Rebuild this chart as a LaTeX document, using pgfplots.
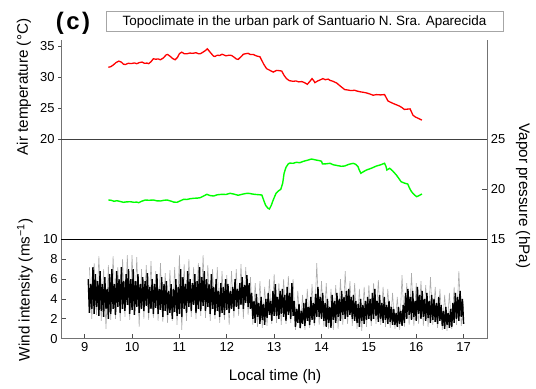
\documentclass[border=0pt]{standalone}
\usepackage{fontspec}
\setmainfont{Liberation Sans}
\usepackage{pgfplots}
\pgfplotsset{compat=1.18}
\pgfplotsset{
  panel/.style={
    scale only axis, width=426.3bp,
    xmin=8.5, xmax=17.5,
    axis line style={draw=none},
    /pgf/number format/assume math mode=true,
    tick label style={font=\fontsize{13}{13}\selectfont, text=black},
    tick style={black!70, line width=0.7bp},
  }
}
\begin{document}
\begin{tikzpicture}
\path[use as bounding box] (-61bp,-50.3bp) rectangle (475bp,338.7bp);
% bottom panel: wind
\begin{axis}[panel, at={(0bp,0bp)}, anchor=south west, height=99.4bp,
  ymin=0, ymax=10, xtick={9,10,11,12,13,14,15,16,17}, ytick={0,2,4,6,8,10},
  xtick pos=bottom, ytick pos=left, tick align=inside, major tick length=5bp]
\addplot[gray!65, line width=0.6bp] coordinates {
(9.10,7.2)(9.15,2.0)(9.20,7.6)(9.25,2.4)(9.30,8.3)(9.35,1.8)(9.40,7.0)(9.45,1.0)(9.50,7.4)(9.55,1.9)
(9.60,8.3)(9.65,2.0)(9.70,7.2)(9.75,1.8)(9.80,8.0)(9.85,2.2)(9.90,8.4)(9.95,1.9)(10.00,8.4)(10.05,2.4)
(10.10,8.2)(10.15,1.2)(10.20,7.0)(10.25,2.0)(10.30,7.4)(10.35,1.9)(10.40,7.8)(10.45,2.1)(10.50,6.8)(10.55,1.8)
(10.60,7.6)(10.65,1.7)(10.70,6.6)(10.75,1.6)(10.80,6.9)(10.85,1.8)(10.90,7.2)(10.95,1.4)(11.00,8.4)(11.05,0.9)
(11.10,7.5)(11.15,1.8)(11.20,8.0)(11.25,2.2)(11.30,7.2)(11.35,2.0)(11.40,7.6)(11.45,2.3)(11.50,8.4)(11.55,2.1)
(11.60,7.4)(11.65,1.8)(11.70,7.0)(11.75,2.0)(11.80,7.2)(11.85,1.6)(11.90,6.8)(11.95,1.9)(12.00,6.4)(12.05,1.4)
(12.10,6.8)(12.15,2.1)(12.20,7.0)(12.25,2.3)(12.30,7.5)(12.35,2.0)(12.40,7.2)(12.45,2.4)(12.50,6.2)(12.55,1.4)
(12.60,5.6)(12.65,1.2)(12.70,5.8)(12.75,1.1)(12.80,5.2)(12.85,1.3)(12.90,6.0)(12.95,1.5)(13.00,6.5)(13.05,1.6)
(13.10,5.6)(13.15,1.4)(13.20,6.0)(13.25,1.5)(13.30,6.3)(13.35,1.6)(13.40,6.0)(13.45,0.9)(13.50,4.8)(13.55,1.0)
(13.60,4.4)(13.65,0.9)(13.70,5.0)(13.75,1.1)(13.80,5.5)(13.85,1.3)(13.90,7.6)(13.95,1.4)(14.00,5.8)(14.05,1.2)
(14.10,5.6)(14.15,1.0)(14.20,5.0)(14.25,0.9)(14.30,5.4)(14.35,1.0)(14.40,6.0)(14.45,1.4)(14.50,6.8)(14.55,1.5)
(14.60,5.8)(14.65,1.3)(14.70,5.6)(14.75,1.0)(14.80,5.0)(14.85,0.8)(14.90,5.2)(14.95,1.2)(15.00,5.4)(15.05,1.3)
(15.10,5.6)(15.15,1.5)(15.20,5.9)(15.25,1.4)(15.30,5.2)(15.35,1.2)(15.40,5.0)(15.45,1.1)(15.50,4.6)(15.55,1.0)
(15.60,4.2)(15.65,0.9)(15.70,6.4)(15.75,1.2)(15.80,5.6)(15.85,1.4)(15.90,6.6)(15.95,1.3)(16.00,5.6)(16.05,1.5)
(16.10,5.8)(16.15,1.3)(16.20,5.4)(16.25,1.2)(16.30,6.2)(16.35,1.4)(16.40,5.2)(16.45,1.1)(16.50,5.0)(16.55,0.9)
(16.60,4.4)(16.65,0.8)(16.70,4.6)(16.75,1.0)(16.80,5.2)(16.85,1.4)(16.90,6.8)(16.95,1.3)(17.00,3.5)
};
\addplot[black, line width=1.4bp] coordinates {
(9.075,6.0)(9.100,2.6)(9.125,5.5)(9.150,3.0)(9.175,7.2)(9.200,2.5)(9.225,6.5)(9.250,3.2)(9.275,5.8)(9.300,2.3)
(9.325,6.8)(9.350,2.8)(9.375,5.5)(9.400,2.2)(9.425,6.2)(9.450,3.0)(9.475,5.0)(9.500,2.0)
(9.525,6.5)(9.550,2.5)(9.575,7.0)(9.600,3.0)(9.625,5.5)(9.650,2.4)(9.675,6.8)(9.700,3.2)(9.725,6.0)(9.750,2.6)
(9.775,7.2)(9.800,3.0)(9.825,5.8)(9.850,2.8)(9.875,6.5)(9.900,3.4)(9.925,7.0)(9.950,2.5)(9.975,6.0)(10.000,2.9)
(10.025,7.0)(10.050,2.4)(10.075,5.8)(10.100,3.2)(10.125,6.5)(10.150,2.6)(10.175,5.5)(10.200,3.0)(10.225,6.2)(10.250,2.8)
(10.275,5.8)(10.300,3.3)(10.325,6.6)(10.350,2.6)(10.375,5.2)(10.400,3.0)(10.425,6.0)(10.450,2.5)(10.475,5.5)(10.500,3.1)
(10.525,6.5)(10.550,2.5)(10.575,5.0)(10.600,2.9)(10.625,6.2)(10.650,2.2)(10.675,5.5)(10.700,2.8)(10.725,5.8)(10.750,2.4)
(10.775,4.8)(10.800,2.6)(10.825,5.5)(10.850,2.0)(10.875,5.0)(10.900,2.7)(10.925,6.0)(10.950,2.3)(10.975,5.2)(11.000,2.5)
(11.025,7.0)(11.050,2.2)(11.075,6.2)(11.100,3.0)(11.125,5.5)(11.150,2.6)(11.175,6.8)(11.200,3.2)(11.225,6.0)(11.250,2.8)
(11.275,5.6)(11.300,3.4)(11.325,6.5)(11.350,2.6)(11.375,5.8)(11.400,3.0)(11.425,7.2)(11.450,2.8)(11.475,6.2)(11.500,3.3)
(11.525,6.8)(11.550,2.8)(11.575,6.0)(11.600,3.2)(11.625,5.5)(11.650,2.5)(11.675,6.5)(11.700,3.0)(11.725,5.2)(11.750,2.4)
(11.775,6.0)(11.800,2.8)(11.825,4.8)(11.850,2.2)(11.875,5.6)(11.900,2.6)(11.925,5.2)(11.950,2.4)(11.975,6.0)(12.000,2.9)
(12.025,5.5)(12.050,2.6)(12.075,4.8)(12.100,3.0)(12.125,5.2)(12.150,2.8)(12.175,6.0)(12.200,3.2)(12.225,5.0)(12.250,3.0)
(12.275,5.6)(12.300,3.4)(12.325,6.2)(12.350,3.0)(12.375,5.4)(12.400,3.6)(12.425,6.4)(12.450,3.2)(12.475,5.6)(12.500,3.0)
(12.525,4.6)(12.550,2.0)(12.575,3.8)(12.600,1.6)(12.625,4.5)(12.650,2.2)(12.675,3.6)(12.700,1.5)(12.725,4.2)(12.750,1.9)
(12.775,3.5)(12.800,1.4)(12.825,4.0)(12.850,2.1)(12.875,4.6)(12.900,2.4)(12.925,3.8)(12.950,1.8)(12.975,4.8)(13.000,2.3)
(13.025,5.5)(13.050,2.3)(13.075,4.2)(13.100,2.0)(13.125,4.8)(13.150,2.5)(13.175,5.0)(13.200,2.2)(13.225,4.4)(13.250,1.8)
(13.275,5.2)(13.300,2.4)(13.325,4.6)(13.350,2.0)(13.375,5.6)(13.400,2.3)
(13.425,3.8)(13.450,1.2)(13.475,3.0)(13.500,1.6)(13.525,3.5)(13.550,1.1)(13.575,2.8)(13.600,1.5)(13.625,3.6)(13.650,1.3)
(13.675,4.0)(13.700,1.8)(13.725,3.2)(13.750,1.4)(13.775,4.2)(13.800,1.9)(13.825,3.6)(13.850,1.6)(13.875,4.5)(13.900,2.2)
(13.925,5.2)(13.950,2.2)(13.975,4.2)(14.000,2.0)(14.025,4.6)(14.050,1.8)(14.075,3.6)(14.100,1.2)(14.125,4.0)(14.150,1.6)
(14.175,3.2)(14.200,1.1)(14.225,4.4)(14.250,1.9)(14.275,3.8)(14.300,1.6)(14.325,4.6)(14.350,2.2)(14.375,4.0)(14.400,1.8)
(14.425,4.8)(14.450,2.4)(14.475,4.2)(14.500,2.0)
(14.525,4.8)(14.550,2.2)(14.575,5.0)(14.600,2.4)(14.625,4.2)(14.650,2.0)(14.675,4.4)(14.700,1.8)(14.725,3.8)(14.750,1.6)
(14.775,3.5)(14.800,1.2)(14.825,4.0)(14.850,1.8)(14.875,3.4)(14.900,1.5)(14.925,3.8)(14.950,1.9)(14.975,4.2)(15.000,2.0)
(15.025,4.0)(15.050,1.8)(15.075,4.6)(15.100,2.0)(15.125,5.0)(15.150,2.3)(15.175,3.8)(15.200,1.7)(15.225,4.4)(15.250,2.0)
(15.275,3.6)(15.300,1.6)(15.325,4.2)(15.350,1.9)(15.375,3.4)(15.400,1.5)(15.425,3.8)(15.450,1.7)(15.475,3.2)(15.500,1.4)
(15.525,3.0)(15.550,1.4)(15.575,2.6)(15.600,1.2)(15.625,3.2)(15.650,1.5)(15.675,2.8)(15.700,1.3)(15.725,3.4)(15.750,1.6)
(15.775,4.6)(15.800,2.0)(15.825,5.0)(15.850,2.4)(15.875,4.2)(15.900,1.9)(15.925,4.8)(15.950,2.2)(15.975,3.8)(16.000,1.8)
(16.025,5.2)(16.050,2.5)(16.075,4.4)(16.100,2.0)(16.125,4.8)(16.150,2.2)(16.175,4.0)(16.200,1.8)(16.225,4.6)(16.250,2.1)
(16.275,3.8)(16.300,1.6)(16.325,4.4)(16.350,1.9)(16.375,4.0)(16.400,1.7)(16.425,3.6)(16.450,1.5)(16.475,4.2)(16.500,1.8)
(16.525,3.4)(16.550,1.3)(16.575,2.8)(16.600,1.0)(16.625,3.2)(16.650,1.4)(16.675,2.6)(16.700,1.1)(16.725,3.0)(16.750,1.2)
(16.775,3.6)(16.800,1.6)(16.825,4.6)(16.850,2.0)(16.875,4.2)(16.900,1.8)(16.925,4.8)(16.950,2.2)(16.975,4.0)(17.000,1.5)
};
\end{axis}
% middle panel: vapor pressure
\begin{axis}[panel, at={(0bp,99.4bp)}, anchor=south west, height=100bp,
  ymin=15, ymax=25, xtick=\empty, ytick={15,20,25},
  ytick pos=right, yticklabel pos=right, tick align=inside, major tick length=5bp]
\addplot[color={rgb,255:red,0;green,255;blue,0}, line width=1.4bp] coordinates {
(9.50,18.93)(9.56,18.90)(9.62,18.80)(9.68,18.86)(9.75,18.78)(9.82,18.70)(9.88,18.74)(9.96,18.76)(10.04,18.70)(10.10,18.72)
(10.14,18.66)(10.20,18.80)(10.28,18.93)(10.36,18.90)(10.45,18.93)(10.52,18.85)(10.60,18.83)(10.67,18.90)(10.74,18.93)(10.82,18.82)
(10.88,18.72)(10.95,18.70)(11.02,18.85)(11.09,19.00)(11.15,18.98)(11.23,19.06)(11.30,19.10)(11.38,19.12)(11.44,19.16)(11.52,19.35)
(11.58,19.50)(11.64,19.38)(11.72,19.33)(11.80,19.45)(11.90,19.50)(11.98,19.48)(12.07,19.60)(12.15,19.52)(12.24,19.40)(12.32,19.50)
(12.40,19.58)(12.46,19.60)(12.55,19.52)(12.62,19.48)(12.70,19.45)(12.74,19.43)(12.78,18.90)(12.82,18.40)(12.87,18.10)(12.90,18.03)
(12.94,18.40)(12.98,18.93)(13.04,19.60)(13.08,19.80)(13.14,20.00)(13.18,20.60)(13.21,21.60)(13.25,22.20)(13.30,22.55)(13.33,22.62)
(13.40,22.60)(13.47,22.70)(13.54,22.66)(13.62,22.80)(13.70,22.90)(13.79,23.03)(13.86,22.95)(13.96,22.86)(14.00,22.80)(14.02,22.53)
(14.10,22.55)(14.18,22.60)(14.25,22.45)(14.35,22.36)(14.42,22.30)(14.49,22.33)(14.58,22.50)(14.67,22.60)(14.72,22.50)(14.77,22.26)
(14.80,21.90)(14.83,21.60)(14.88,21.75)(14.95,21.93)(15.05,22.10)(15.16,22.33)(15.25,22.45)(15.33,22.60)(15.36,22.30)(15.38,21.93)
(15.44,22.10)(15.50,21.85)(15.58,21.43)(15.63,21.10)(15.68,20.76)(15.75,20.62)(15.82,20.53)(15.86,20.10)(15.90,19.76)(15.96,19.45)
(16.01,19.26)(16.05,19.35)(16.12,19.53)
};
\end{axis}
% top panel: air temperature
\begin{axis}[panel, at={(0bp,199.4bp)}, anchor=south west, height=99.3bp,
  ymin=20, ymax=36, xtick=\empty, ytick={20,25,30,35},
  ytick pos=left, tick align=outside, major tick length=3bp]
\addplot[red, line width=1.3bp] coordinates {
(9.50,31.60)(9.55,31.70)(9.60,31.95)(9.66,32.35)(9.72,32.60)(9.77,32.45)(9.82,32.10)(9.86,32.05)(9.92,32.25)(9.98,32.20)
(10.05,32.30)(10.10,32.18)(10.15,32.35)(10.21,32.44)(10.26,32.25)(10.32,32.28)(10.35,32.18)(10.40,32.50)(10.45,32.98)(10.50,32.90)
(10.55,32.95)(10.60,32.82)(10.66,33.10)(10.72,33.60)(10.75,33.67)(10.80,33.40)(10.86,33.00)(10.91,32.82)(10.96,33.20)(11.00,33.80)
(11.05,34.04)(11.10,33.80)(11.16,33.78)(11.22,33.90)(11.28,33.85)(11.35,33.95)(11.40,33.80)(11.44,33.78)(11.50,34.05)(11.55,34.30)
(11.59,34.58)(11.63,34.20)(11.68,33.75)(11.72,33.40)(11.75,33.35)(11.80,33.55)(11.85,33.50)(11.90,33.70)(11.93,33.62)(11.98,33.45)
(12.05,33.55)(12.10,33.51)(12.16,33.20)(12.20,32.95)(12.24,32.87)(12.30,33.30)(12.35,33.70)(12.39,33.78)(12.45,33.85)(12.50,33.65)
(12.56,33.67)(12.62,33.45)(12.67,33.35)(12.70,33.30)(12.74,32.70)(12.78,32.10)(12.84,31.38)(12.90,31.15)(12.98,30.83)(13.05,31.10)
(13.12,31.05)(13.16,30.99)(13.21,30.30)(13.26,29.78)(13.32,29.45)(13.40,29.34)(13.46,29.40)(13.52,29.25)(13.58,29.30)(13.61,29.23)
(13.66,29.05)(13.70,28.86)(13.75,29.30)(13.80,29.78)(13.84,29.40)(13.86,29.13)(13.92,29.40)(13.98,29.60)(14.03,29.78)(14.08,29.60)
(14.14,29.70)(14.18,29.50)(14.24,29.35)(14.32,29.07)(14.40,28.55)(14.49,28.01)(14.55,27.95)(14.62,27.85)(14.70,27.90)(14.74,27.79)
(14.82,27.65)(14.90,27.55)(14.95,27.47)(15.02,27.30)(15.09,27.10)(15.16,27.20)(15.25,27.15)(15.33,27.21)(15.36,26.80)(15.40,26.20)
(15.44,26.03)(15.52,25.75)(15.60,25.50)(15.65,25.34)(15.70,25.10)(15.75,24.81)(15.80,24.85)(15.87,24.90)(15.90,24.40)(15.93,23.89)
(15.98,23.60)(16.05,23.35)(16.12,23.09)
};
\end{axis}
% frame
\draw[black!55, line width=1bp] (0bp,298.7bp) -- (0bp,0bp) -- (426.3bp,0bp) -- (426.3bp,298.7bp);
\draw[black, line width=0.9bp] (0bp,99.4bp) -- (426.3bp,99.4bp);
\draw[black!75, line width=0.9bp] (0bp,199.4bp) -- (426.3bp,199.4bp);
% labels
\node[rotate=90, font=\fontsize{15.3}{15.3}\selectfont] at (-37bp,251.7bp) {Air temperature (°C)};
\node[rotate=90, font=\fontsize{15.3}{15.3}\selectfont] at (-36bp,48.7bp) {Wind intensity (ms\textsuperscript{−1})};
\node[rotate=-90, font=\fontsize{15.3}{15.3}\selectfont] at (462bp,142.7bp) {Vapor pressure (hPa)};
\node[font=\fontsize{15.3}{15.3}\selectfont] at (214bp,-38bp) {Local time (h)};
\node[draw=black!35, line width=0.8bp, minimum width=397bp, minimum height=20bp, inner sep=0pt,
  font=\fontsize{13.5}{13.5}\selectfont] at (243.5bp,317bp) {Topoclimate in the urban park of Santuario N. Sra. Aparecida};
\node[font=\bfseries\fontsize{24}{24}\selectfont, inner sep=0pt] at (12bp,315.2bp) {(\hspace{2.5bp}c\hspace{2.5bp})};
\end{tikzpicture}
\end{document}
